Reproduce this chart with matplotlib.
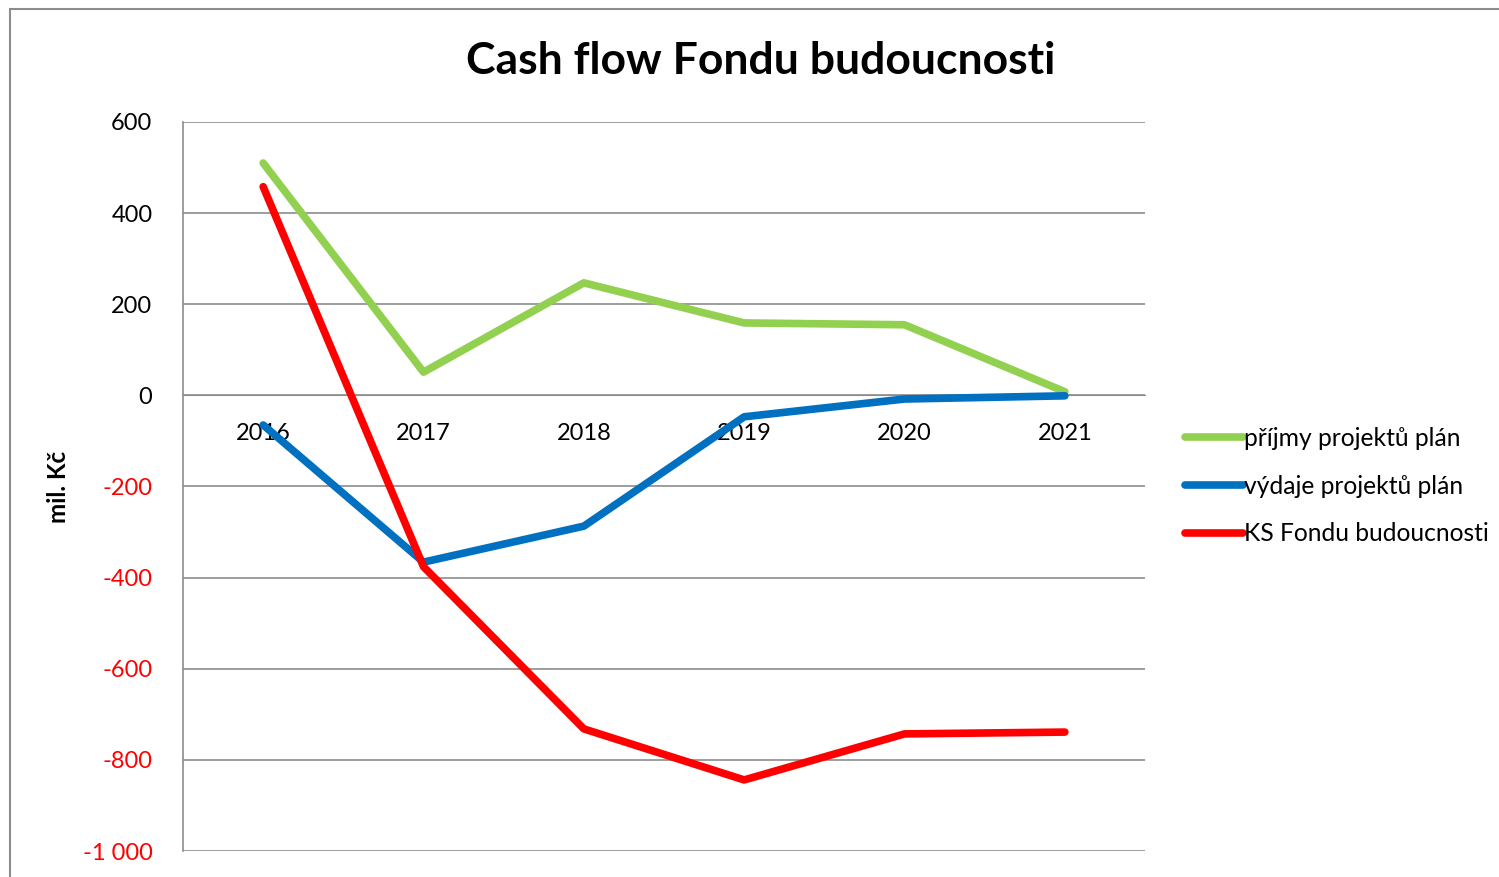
import matplotlib
matplotlib.use("Agg")
import matplotlib.pyplot as plt
from matplotlib.patches import Rectangle

years = ["2016", "2017", "2018", "2019", "2020", "2021"]
prijmy = [510, 51, 247, 159, 155, 8]
vydaje = [-65, -366, -287, -47, -8, -1]
ks_fondu = [458, -376, -732, -844, -743, -739]

series_names = ["příjmy projektů plán", "výdaje projektů plán", "KS Fondu budoucnosti"]
series_colors = ["#92D050", "#0070C0", "#FF0000"]

y_ticks = [600, 400, 200, 0, -200, -400, -600, -800, -1000]
y_tick_labels = ["600", "400", "200", "0", "-200", "-400", "-600", "-800", "-1 000"]

plt.rcParams["font.family"] = ["Lato", "DejaVu Sans"]

fig = plt.figure(figsize=(14.99, 8.77), dpi=100)
ax = fig.add_axes([183 / 1499, 1 - 851 / 877, (1145 - 183) / 1499, (851 - 122) / 877])

x = list(range(len(years)))
for vals, name, col in zip([prijmy, vydaje, ks_fondu], series_names, series_colors):
    ax.plot(x, vals, color=col, lw=5.5, label=name, solid_capstyle="round",
            solid_joinstyle="round", zorder=3)

ax.set_xlim(-0.5, len(years) - 0.5)
ax.set_ylim(-1000, 600)
ax.set_yticks(y_ticks)
ax.set_yticklabels(y_tick_labels)
for lbl, v in zip(ax.get_yticklabels(), y_ticks):
    lbl.set_color("red" if v < 0 else "black")
ax.tick_params(axis="y", length=0, pad=22, labelsize=17)
ax.set_xticks(x)
ax.set_xticklabels(years)
ax.tick_params(axis="x", length=0, pad=20, labelsize=17)

ax.grid(axis="y", color="#8c8c8c", lw=1.2)
ax.set_axisbelow(True)
for side in ["top", "right"]:
    ax.spines[side].set_visible(False)
ax.spines["bottom"].set_position(("data", 0))
ax.spines["bottom"].set_color("#8c8c8c")
ax.spines["left"].set_color("#8c8c8c")
ax.spines["left"].set_linewidth(1.2)

ax.set_ylabel("mil. Kč", fontsize=17.5, fontweight="bold", labelpad=9)

fig.text(761 / 1499, 1 - 61 / 877, "Cash flow Fondu budoucnosti", ha="center", va="center",
         fontsize=32, fontweight="bold")

fig.legend(loc="upper left", bbox_to_anchor=(1185 / 1499, 1 - 427 / 877), frameon=False,
           fontsize=17.7, handlelength=2.35, handletextpad=0.05, labelspacing=1.0,
           borderaxespad=0, borderpad=0)

fig.patches.append(Rectangle((10 / 1499, -0.1), 1.2, 1 - 9 / 877 + 0.1, transform=fig.transFigure,
                             fill=False, edgecolor="#8c8c8c", lw=1.5))

fig.savefig("out.png", dpi=100)
